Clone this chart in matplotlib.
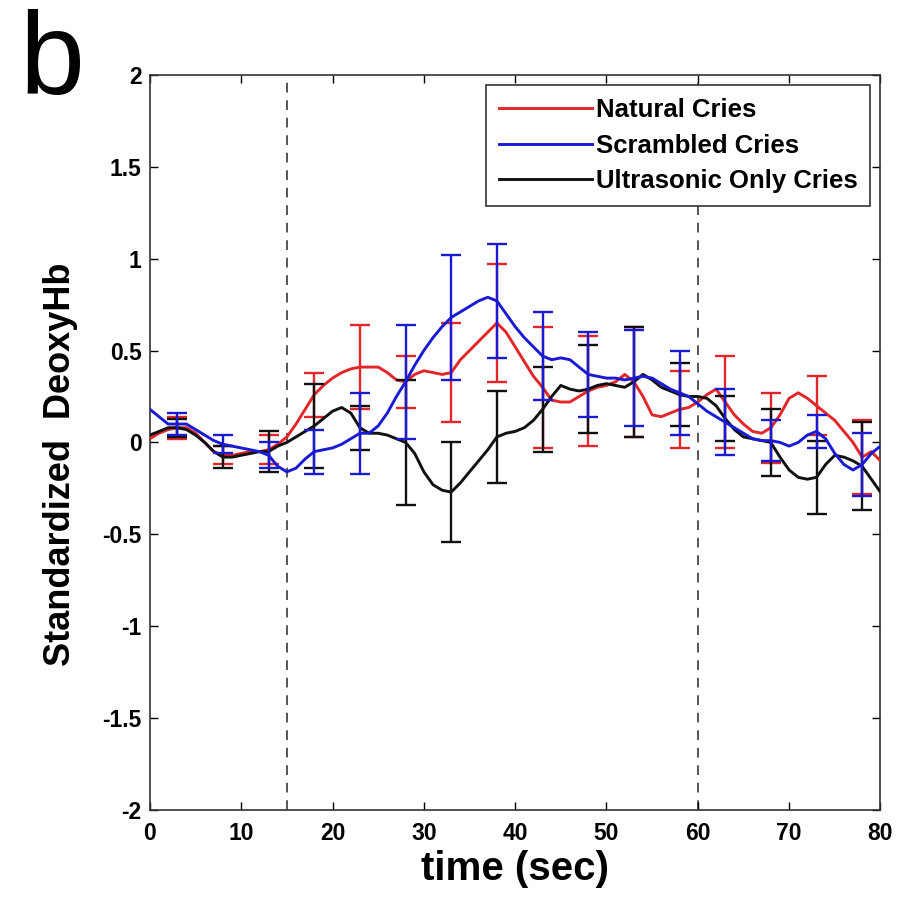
import numpy as np
import matplotlib
matplotlib.use('Agg')
import matplotlib.pyplot as plt

plt.rcParams['font.family'] = ['Liberation Sans', 'DejaVu Sans']

# temps (sec), un point par seconde
t = np.arange(0, 81, 1)

natural = [0.02, 0.05, 0.07, 0.08, 0.08, 0.05, 0.0, -0.05, -0.07, -0.07,
           -0.06, -0.05, -0.05, -0.04, -0.01, 0.03, 0.1, 0.18, 0.26, 0.31,
           0.35, 0.38, 0.40, 0.41, 0.41, 0.41, 0.38, 0.34, 0.33, 0.37,
           0.39, 0.38, 0.37, 0.38, 0.45, 0.5, 0.55, 0.6, 0.65, 0.6,
           0.52, 0.44, 0.36, 0.3, 0.23, 0.22, 0.22, 0.25, 0.28, 0.3,
           0.31, 0.33, 0.37, 0.33, 0.25, 0.15, 0.14, 0.16, 0.18, 0.19,
           0.22, 0.26, 0.29, 0.22, 0.15, 0.1, 0.06, 0.05, 0.08, 0.15,
           0.24, 0.27, 0.24, 0.2, 0.16, 0.12, 0.06, 0.0, -0.08, -0.05,
           -0.1]
scrambled = [0.18, 0.14, 0.1, 0.1, 0.1, 0.07, 0.04, 0.01, -0.01, -0.02,
             -0.03, -0.04, -0.05, -0.07, -0.13, -0.16, -0.14, -0.09, -0.05, -0.04,
             -0.03, -0.01, 0.02, 0.05, 0.05, 0.09, 0.16, 0.25, 0.33, 0.42,
             0.5, 0.57, 0.63, 0.68, 0.71, 0.74, 0.77, 0.79, 0.77, 0.7,
             0.63, 0.57, 0.52, 0.47, 0.45, 0.46, 0.45, 0.41, 0.37, 0.36,
             0.35, 0.35, 0.34, 0.35, 0.36, 0.35, 0.32, 0.29, 0.27, 0.25,
             0.21, 0.17, 0.14, 0.11, 0.08, 0.05, 0.02, 0.01, 0.01, 0.0,
             -0.02, 0.0, 0.04, 0.06, 0.02, -0.06, -0.12, -0.15, -0.12, -0.06,
             -0.02]
ultrasonic = [0.04, 0.06, 0.08, 0.08, 0.07, 0.04, 0.0, -0.05, -0.08, -0.08,
              -0.07, -0.06, -0.05, -0.05, -0.02, 0.0, 0.03, 0.06, 0.09, 0.13,
              0.17, 0.19, 0.16, 0.08, 0.05, 0.05, 0.04, 0.02, 0.0, -0.06,
              -0.16, -0.23, -0.26, -0.27, -0.22, -0.16, -0.1, -0.04, 0.03, 0.05,
              0.06, 0.08, 0.12, 0.18, 0.25, 0.31, 0.29, 0.28, 0.29, 0.31,
              0.32, 0.31, 0.3, 0.33, 0.37, 0.34, 0.3, 0.28, 0.26, 0.25,
              0.25, 0.24, 0.2, 0.13, 0.07, 0.03, 0.02, 0.01, 0.0, -0.08,
              -0.15, -0.19, -0.2, -0.19, -0.12, -0.07, -0.08, -0.1, -0.13, -0.2,
              -0.27]

# barres d'erreur toutes les 5 s (3, 8, ..., 78)
t_err = np.arange(3, 80, 5)
natural_err = [0.06, 0.05, 0.08, 0.12, 0.23, 0.14, 0.27, 0.32,
               0.33, 0.3, 0.3, 0.21, 0.25, 0.19, 0.16, 0.2]
scrambled_err = [0.06, 0.05, 0.07, 0.12, 0.22, 0.31, 0.34, 0.31,
                 0.24, 0.23, 0.26, 0.23, 0.18, 0.11, 0.09, 0.17]
ultrasonic_err = [0.05, 0.06, 0.11, 0.23, 0.12, 0.34, 0.27, 0.25,
                  0.23, 0.24, 0.3, 0.17, 0.12, 0.18, 0.2, 0.24]

noms = ["Natural Cries", "Scrambled Cries", "Ultrasonic Only Cries"]
stim_on, stim_off = 15, 60
yticks = [-2, -1.5, -1, -0.5, 0, 0.5, 1, 1.5, 2]
ylabels = ['-2', '-1.5', '-1', '-0.5', '0', '0.5', '1', '1.5', '2']
xticks = [0, 10, 20, 30, 40, 50, 60, 70, 80]

rouge = '#e3262a'
bleu = '#1a1ad2'
noir = '#111111'

fig = plt.figure(figsize=(9.03, 9.02), dpi=100)
ax = fig.add_axes([0.166, 0.102, 0.809, 0.815])

idx = t_err  # t commence a 0 avec un pas de 1
series = [(natural, natural_err, rouge),
          (ultrasonic, ultrasonic_err, noir),
          (scrambled, scrambled_err, bleu)]
lignes = {}
for y, e, c in series:
    y = np.array(y)
    l, = ax.plot(t, y, color=c, lw=2.1, zorder=3)
    ax.errorbar(t_err, y[idx], yerr=e, fmt='none', ecolor=c, elinewidth=1.7,
                capsize=7, capthick=1.7, zorder=3)
    lignes[c] = l

ax.axvline(stim_on, color='#555555', lw=1.4, ls=(0, (5, 4)), zorder=1)
ax.axvline(stim_off, color='#555555', lw=1.4, ls=(0, (5, 4)), zorder=1)

ax.set_xlim(0, 80)
ax.set_ylim(-2, 2)
ax.set_xticks(xticks)
ax.set_yticks(yticks)
ax.set_yticklabels(ylabels)
ax.tick_params(direction='in', top=True, right=True, length=6, width=1,
               labelsize=16.5, pad=6)
ax.tick_params(axis='x', pad=9)
for lab in ax.get_xticklabels() + ax.get_yticklabels():
    lab.set_fontweight('bold')
for s in ax.spines.values():
    s.set_color('#333333')
    s.set_linewidth(1.2)

ax.set_xlabel("time (sec)", fontsize=29, fontweight='bold', labelpad=3)
ax.set_ylabel("Standardized  DeoxyHb", fontsize=26, fontweight='bold')
ax.yaxis.set_label_coords(-0.098, 0.47)

leg = ax.legend([lignes[rouge], lignes[bleu], lignes[noir]], noms, loc='upper right',
                prop={'weight': 'bold', 'size': 18.5}, handlelength=3.6,
                handletextpad=0.15, borderaxespad=0.4, fancybox=False,
                framealpha=1, edgecolor='#333333', labelspacing=0.45,
                borderpad=0.5)
leg.get_frame().set_linewidth(1.2)

fig.text(0.022, 0.99, "b", fontsize=84, va='top', ha='left')

fig.savefig("out.png", dpi=100, facecolor='white')
